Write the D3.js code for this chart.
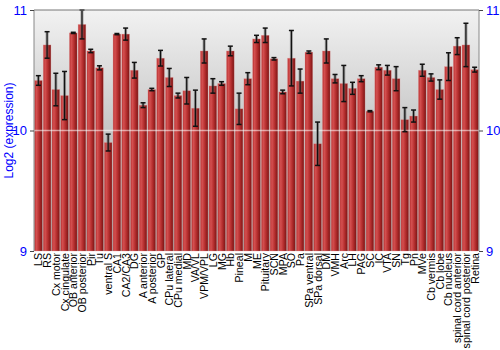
<!DOCTYPE html>
<html>
<head>
<meta charset="utf-8">
<script src="https://cdn.jsdelivr.net/npm/d3@7"></script>
<style>
  body { margin: 0; background: #fff; }
  svg { font-family: "Liberation Sans", Arial, sans-serif; }
</style>
</head>
<body>
<svg id="chart" width="500" height="350"></svg>
<script>
// tissue names along the x axis
const tissues = ["LS","RS","Cx motor","Cx cingulate","OB anterior","OB posterior","Pir","Tu","ventral S","CA1",
  "CA2/CA3","DG","A anterior","A posterior","GP","CPu lateral","CPu medial","MD","VA/VL","VPM/VPL",
  "LG","MG","Hb","Pineal","M","ME","Pituitary","SCN","MPA","SO",
  "Pa","SPa ventral","SPa dorsal","DM","VMH","Arc","LH","PAG","SC","IC",
  "VTA","SN","Tg","Pn","MVe","Cb vermis","Cb lobe","Cb nucleus","spinal cord anterior","spinal cord posterior",
  "Retina"]

// mean log2 expression
const means = [10.415,10.71,10.34,10.29,10.81,10.88,10.66,10.52,9.90,10.80,
  10.80,10.50,10.21,10.34,10.60,10.44,10.29,10.33,10.185,10.66,
  10.37,10.39,10.66,10.18,10.43,10.76,10.79,10.595,10.32,10.60,
  10.41,10.65,9.89,10.66,10.43,10.39,10.35,10.43,10.16,10.525,
  10.50,10.43,10.09,10.12,10.50,10.44,10.34,10.53,10.70,10.71,
  10.505]

// error (+/-)
const errs = [0.04,0.11,0.135,0.2,0.005,0.12,0.014,0.017,0.07,0.005,
  0.05,0.065,0.02,0.01,0.065,0.075,0.02,0.11,0.15,0.1,
  0.06,0.015,0.04,0.13,0.05,0.03,0.06,0.01,0.015,0.23,
  0.1,0.01,0.18,0.1,0.035,0.15,0.05,0.025,0.005,0.02,
  0.04,0.1,0.1,0.05,0.05,0.03,0.08,0.115,0.07,0.18,
  0.02]

const yTicks = [9, 10, 11]

const margin = {top: 10, right: 21, bottom: 99, left: 34}
const svg = d3.select('#chart')
const width = 500, height = 350
const innerWidth = width - margin.left - margin.right
const innerHeight = height - margin.top - margin.bottom

const data = tissues.map((t, i) => ({name: t, mean: means[i], err: errs[i]}))

const defs = svg.append("defs")
// background gradient (light at top, darker at bottom)
const bg = defs.append("linearGradient").attr("id", "bg").attr("x1", 0).attr("y1", 0).attr("x2", 0).attr("y2", 1)
bg.append("stop").attr("offset", "0%").attr("stop-color", "#f2f2f2")
bg.append("stop").attr("offset", "100%").attr("stop-color", "#9a9a9a")

// bar gradient (light left edge, dark right edge)
const bg2 = defs.append("linearGradient").attr("id", "bar").attr("x1", 0).attr("y1", 0).attr("x2", 1).attr("y2", 0)
bg2.append("stop").attr("offset", "0%").attr("stop-color", "#b83030")
bg2.append("stop").attr("offset", "25%").attr("stop-color", "#d45050")
bg2.append("stop").attr("offset", "60%").attr("stop-color", "#b52e2e")
bg2.append("stop").attr("offset", "100%").attr("stop-color", "#7a1414")

const g = svg.append("g").attr("transform", `translate(${margin.left},${margin.top})`)

const x = d3.scaleBand().domain(tissues).range([0, innerWidth]).paddingInner(0.12).paddingOuter(0.06)
const y = d3.scaleLinear().domain([9, 11]).range([innerHeight, 0])

g.append("rect").attr("width", innerWidth).attr("height", innerHeight).attr("fill", "url(#bg)")

// bars
g.selectAll(".bar")
  .data(data)
  .join("rect")
  .attr("class", "bar")
  .attr("x", d => x(d.name))
  .attr("y", d => y(d.mean))
  .attr("width", x.bandwidth())
  .attr("height", d => innerHeight - y(d.mean))
  .attr("fill", "url(#bar)")
  .attr("stroke", "rgba(230,150,150,0.5)")
  .attr("stroke-width", 0.6)

// light grid line at 10
g.append("line")
  .attr("x1", 0).attr("x2", innerWidth)
  .attr("y1", y(10)).attr("y2", y(10))
  .attr("stroke", "rgba(255,255,255,0.55)").attr("stroke-width", 1.5)

// error bars
const eb = g.append("g").selectAll("g").data(data).join("g")
  .attr("transform", d => `translate(${x(d.name) + x.bandwidth() / 2},0)`)
eb.append("line").attr("y1", d => y(d.mean + d.err)).attr("y2", d => y(d.mean - d.err))
  .attr("stroke", "rgba(90,90,90,0.5)").attr("stroke-width", 3)
eb.append("line").attr("y1", d => y(d.mean + d.err)).attr("y2", d => y(d.mean - d.err))
  .attr("stroke", "#111").attr("stroke-width", 1.2)
eb.selectAll(".cap").data(d => [d.mean + d.err, d.mean - d.err]).join("line")
  .attr("class", "cap")
  .attr("x1", -2.5).attr("x2", 2.5)
  .attr("y1", v => y(v)).attr("y2", v => y(v))
  .attr("stroke", "#111").attr("stroke-width", 1.5)

// frame lines
g.append("line").attr("x1", 0).attr("x2", innerWidth).attr("y1", 0).attr("y2", 0).attr("stroke", "#777")
g.append("line").attr("x1", 0).attr("x2", 0).attr("y1", 0).attr("y2", innerHeight).attr("stroke", "#888")
g.append("line").attr("x1", innerWidth).attr("x2", innerWidth).attr("y1", 0).attr("y2", innerHeight).attr("stroke", "#888")

// left and right axes
const yl = g.append("g").call(d3.axisLeft(y).tickValues(yTicks).tickSize(4).tickFormat(d3.format("d")))
const yr = g.append("g").attr("transform", `translate(${innerWidth},0)`)
  .call(d3.axisRight(y).tickValues(yTicks).tickSize(4).tickFormat(d3.format("d")))
;[yl, yr].forEach(a => {
  a.select(".domain").remove()
  a.selectAll("line").attr("stroke", "#444")
  a.selectAll("text").attr("fill", "#0000ff").style("font-size", "13px")
    .attr("font-family", "Liberation Sans, Arial, sans-serif")
})

// x labels (rotated)
g.append("g").selectAll("text").data(tissues).join("text")
  .attr("transform", d => `translate(${x(d) + x.bandwidth() / 2 + 4},${innerHeight + 2}) rotate(-90)`)
  .attr("text-anchor", "end")
  .style("font-size", "10.6px")
  .attr("fill", "#000")
  .text(d => d)

// y axis title
svg.append("text")
  .attr("transform", `translate(13,${margin.top + innerHeight / 2}) rotate(-90)`)
  .attr("text-anchor", "middle")
  .attr("fill", "#0000ff")
  .style("font-size", "12px")
  .text("Log2 (expression)")
</script>
</body>
</html>
